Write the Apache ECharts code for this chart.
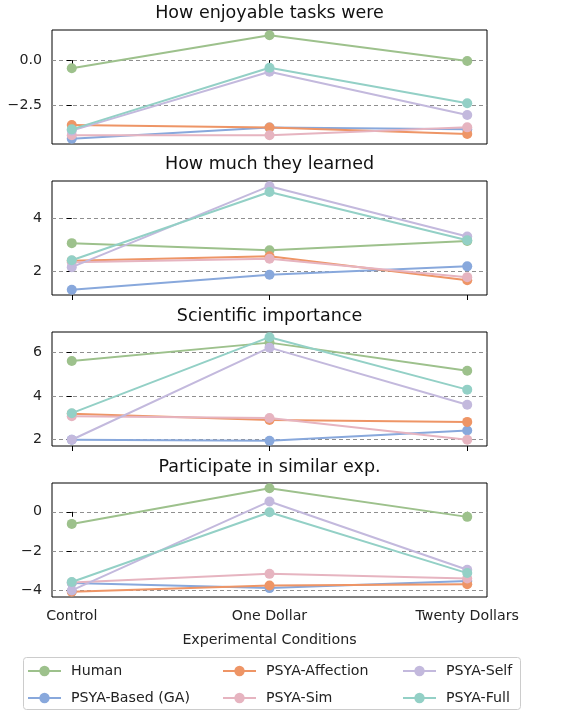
<!DOCTYPE html>
<html><head><meta charset="utf-8">
<script src="https://cdn.jsdelivr.net/npm/echarts@6/dist/echarts.min.js"></script>
<style>html,body{margin:0;padding:0;background:#fff}#c{width:573px;height:711px}</style>
</head><body><div id="c"></div>
<script>
const categories = ['Control', 'One Dollar', 'Twenty Dollars'];
const seriesNames = ['Human', 'PSYA-Based (GA)', 'PSYA-Affection', 'PSYA-Sim', 'PSYA-Self', 'PSYA-Full'];
const panelTitles = ['How enjoyable tasks were', 'How much they learned', 'Scientific importance', 'Participate in similar exp.'];
const xAxisTitle = 'Experimental Conditions';

// rows follow seriesNames order; columns follow categories
const enjoyValues = [
  [-0.45, 1.37, -0.05],
  [-4.32, -3.70, -3.80],
  [-3.56, -3.70, -4.05],
  [-4.12, -4.12, -3.69],
  [-3.87, -0.64, -3.01],
  [-3.80, -0.42, -2.37]
];
const learnedValues = [
  [3.07, 2.80, 3.15],
  [1.30, 1.87, 2.19],
  [2.40, 2.57, 1.66],
  [2.35, 2.48, 1.78],
  [2.16, 5.23, 3.32],
  [2.42, 5.01, 3.18]
];
const importanceValues = [
  [5.62, 6.46, 5.17],
  [2.00, 1.95, 2.42],
  [3.19, 2.91, 2.82],
  [3.08, 3.00, 2.00],
  [2.00, 6.23, 3.61],
  [3.22, 6.71, 4.30]
];
const participateValues = [
  [-0.62, 1.21, -0.26],
  [-3.65, -3.91, -3.55],
  [-4.10, -3.78, -3.71],
  [-3.62, -3.18, -3.42],
  [-4.03, 0.53, -2.97],
  [-3.60, -0.02, -3.14]
];
const enjoyTicks = [-2.5, 0];
const learnedTicks = [2, 4];
const importanceTicks = [2, 4, 6];
const participateTicks = [-4, -2, 0];

const panelValues = [enjoyValues, learnedValues, importanceValues, participateValues];
const panelTicks = [enjoyTicks, learnedTicks, importanceTicks, participateTicks];
const panelDecimals = [1, 0, 0, 0];

const colors = ['#9dc18c', '#88a8dc', '#ee9566', '#e6b4c0', '#c3b9dd', '#93d0c6'];
const FONT = 'DejaVu Sans';
const TICK_FS = 14.2, TITLE_FS = 17.5;
const gridTops = [30, 181, 332, 483];
const titleTops = [4, 155, 307, 458];
const gridH = 114, gridL = 52, gridW = 435;

function fmt(v, d) { return v.toFixed(d).replace('-', '\u2212'); }

const grids = [], xAxes = [], yAxes = [], titles = [], series = [];
panelValues.forEach((vals, p) => {
  grids.push({ left: gridL, top: gridTops[p], width: gridW, height: gridH, show: true,
    borderColor: '#000', borderWidth: 1, backgroundColor: 'transparent', containLabel: false });
  const last = p === panelValues.length - 1;
  xAxes.push({
    type: 'value', gridIndex: p, min: -0.1, max: 2.1,
    axisLine: { show: false },
    axisTick: { show: true, length: 5, lineStyle: { color: '#000' }, customValues: [0, 1, 2] },
    axisLabel: { show: last, customValues: [0, 1, 2], margin: 12, fontSize: TICK_FS, fontFamily: FONT, color: '#222',
      formatter: v => categories[Math.round(v)] },
    splitLine: { show: false },
    name: last ? xAxisTitle : '', nameLocation: 'middle', nameGap: 36,
    nameTextStyle: { fontSize: TICK_FS, fontFamily: FONT, color: '#222' }
  });
  const flat = vals.flat();
  const lo = Math.min(...flat), hi = Math.max(...flat), m = (hi - lo) * 0.05;
  yAxes.push({
    type: 'value', gridIndex: p, min: lo - m, max: hi + m,
    axisLine: { show: false },
    axisTick: { show: true, length: 5, lineStyle: { color: '#000' }, customValues: panelTicks[p] },
    axisLabel: { customValues: panelTicks[p], margin: 10, fontSize: TICK_FS, fontFamily: FONT, color: '#222',
      formatter: v => fmt(v, panelDecimals[p]) },
    splitLine: { show: true, lineStyle: { color: '#8f8f8f', width: 1, type: [4, 3] } }
  });
  titles.push({ text: panelTitles[p], left: 269.5, top: titleTops[p], textAlign: 'center', padding: 0,
    textStyle: { fontSize: TITLE_FS, fontWeight: 'normal', fontFamily: FONT, color: '#111' } });
  vals.forEach((row, s) => {
    series.push({
      type: 'line', name: seriesNames[s], xAxisIndex: p, yAxisIndex: p,
      data: row.map((v, i) => [i, v]),
      symbol: 'circle', symbolSize: 10, showSymbol: true,
      lineStyle: { width: 2, color: colors[s] }, itemStyle: { color: colors[s] },
      z: 2 + s * 0.01, animation: false
    });
  });
});

const legendCols = [[seriesNames[0], seriesNames[1]], [seriesNames[2], seriesNames[3]], [seriesNames[4], seriesNames[5]]];
const legendLefts = [27, 222, 402];
const legends = legendCols.map((d, i) => ({
  data: d, orient: 'vertical', left: legendLefts[i], top: 664, padding: 0,
  itemWidth: 33, itemHeight: 13, itemGap: 13,
  textStyle: { fontSize: TICK_FS, fontFamily: FONT, color: '#222', padding: [0, 0, 0, 5] },
  selectedMode: false
}));

const chart = echarts.init(document.getElementById('c'), null, { renderer: 'canvas' });
chart.setOption({
  animation: false,
  backgroundColor: '#fff',
  title: titles,
  grid: grids,
  xAxis: xAxes,
  yAxis: yAxes,
  legend: legends,
  graphic: [{ type: 'rect', shape: { x: 23.5, y: 657.5, width: 497, height: 52, r: 3 },
    style: { fill: '#fff', stroke: '#ccc', lineWidth: 1 }, z: 0 }],
  series: series
});
</script></body></html>
